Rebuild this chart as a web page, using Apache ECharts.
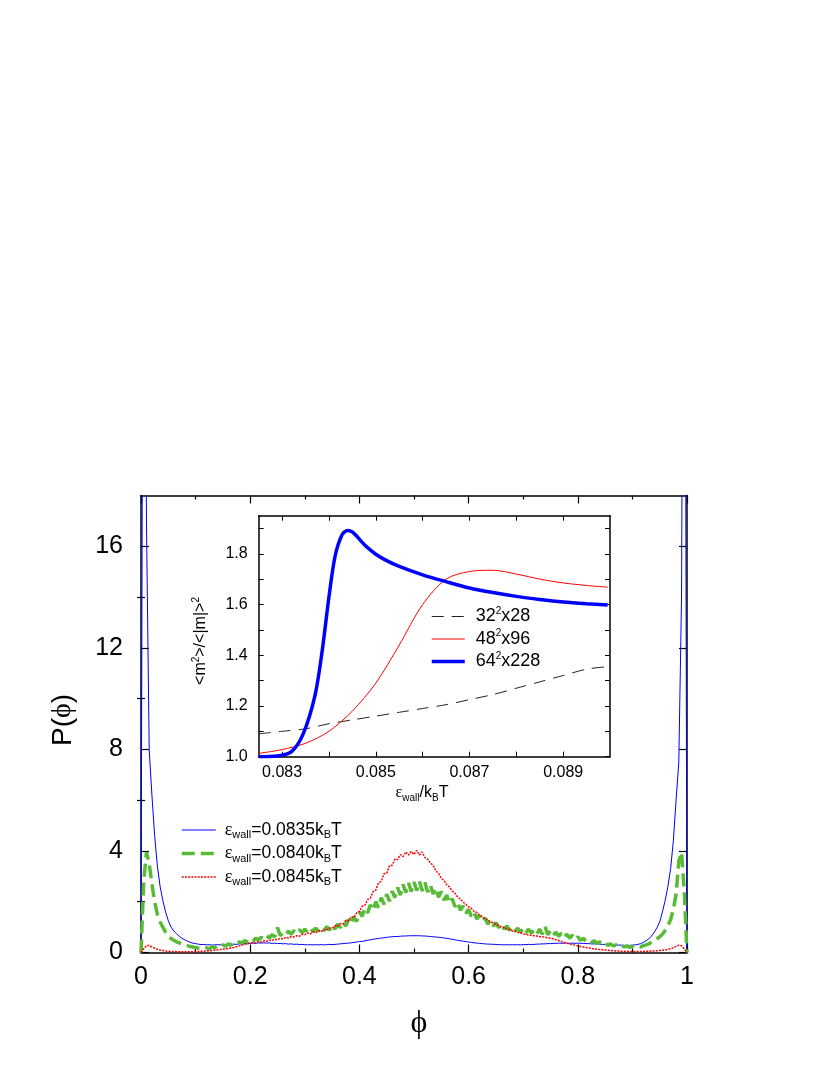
<!DOCTYPE html>
<html><head><meta charset="utf-8">
<script src="https://cdn.jsdelivr.net/npm/echarts@6/dist/echarts.min.js"></script>
<style>html,body{margin:0;padding:0;background:#fff}#c{width:830px;height:1075px}</style>
</head><body><div id="c"></div>
<script>
// ---- main plot: histogram bins of phi (0 .. 1, step 0.005) ----
const PHI_MIN = 0, PHI_BIN = 0.005;
const P0835 = [
 0,40,17,8,6.2,4.6,3.4,2.6,2.05,1.6,1.25,1.0,0.85,0.74,0.64,0.56,0.5,0.45,0.4,0.37,
 0.35,0.33,0.31,0.32,0.30,0.31,0.29,0.30,0.31,0.30,0.31,0.30,0.32,0.31,0.33,0.32,0.34,0.33,0.35,0.34,
 0.36,0.37,0.36,0.38,0.37,0.38,0.37,0.38,0.36,0.37,0.35,0.36,0.34,0.35,0.33,0.34,0.32,0.33,0.31,0.32,
 0.31,0.30,0.31,0.30,0.31,0.30,0.31,0.30,0.31,0.32,0.31,0.32,0.33,0.34,0.35,0.36,0.37,0.38,0.40,0.41,
 0.43,0.44,0.46,0.48,0.50,0.52,0.54,0.55,0.57,0.58,0.60,0.61,0.62,0.63,0.63,0.64,0.65,0.65,0.66,0.66,
 0.66,0.66,0.66,0.65,0.65,0.64,0.63,0.62,0.61,0.60,0.59,0.57,0.56,0.54,0.52,0.50,0.48,0.46,0.45,0.43,
 0.41,0.40,0.38,0.37,0.36,0.35,0.34,0.33,0.33,0.32,0.32,0.31,0.31,0.30,0.31,0.30,0.31,0.30,0.31,0.30,
 0.31,0.31,0.32,0.31,0.32,0.33,0.33,0.34,0.34,0.35,0.35,0.36,0.36,0.37,0.36,0.37,0.37,0.36,0.37,0.36,
 0.37,0.36,0.36,0.35,0.35,0.34,0.34,0.33,0.33,0.32,0.32,0.31,0.31,0.30,0.30,0.29,0.29,0.28,0.28,0.28,
 0.29,0.30,0.32,0.35,0.40,0.46,0.54,0.64,0.80,0.98,1.2,1.6,2.05,2.6,3.3,4.4,6.0,7.5,14,40,
 0];
const P0840 = [
 0,2.8,3.95,3.5,2.7,2.0,1.5,1.2,1.0,0.8,0.65,0.55,0.48,0.42,0.38,0.33,0.30,0.27,0.24,0.22,
 0.20,0.17,0.16,0.14,0.18,0.15,0.22,0.18,0.26,0.21,0.30,0.25,0.34,0.29,0.38,0.33,0.42,0.37,0.47,0.41,
 0.52,0.45,0.56,0.49,0.60,0.53,0.66,0.57,0.70,0.62,0.98,0.66,0.78,0.70,0.84,0.72,0.86,0.76,0.90,0.78,
 0.92,0.80,0.94,0.82,0.96,0.84,0.98,0.86,1.02,0.88,1.06,0.92,1.12,0.98,1.20,1.04,1.30,1.12,1.40,1.22,
 1.60,1.42,1.74,1.56,1.88,1.66,2.00,1.76,2.16,1.90,2.30,2.02,2.42,2.16,2.56,2.26,2.68,2.36,2.74,2.40,
 2.78,2.44,2.80,2.42,2.76,2.38,2.66,2.30,2.54,2.18,2.40,2.06,2.26,1.94,2.12,1.80,1.98,1.66,1.84,1.54,
 1.70,1.42,1.58,1.32,1.46,1.22,1.36,1.12,1.26,1.04,1.18,0.98,1.10,0.92,1.04,0.88,1.00,0.84,0.96,0.80,
 0.94,0.78,0.92,0.76,0.90,0.74,0.92,0.72,1.02,0.70,0.86,0.68,0.80,0.64,0.76,0.60,0.72,0.56,0.68,0.52,
 0.62,0.48,0.56,0.44,0.50,0.40,0.46,0.36,0.42,0.32,0.38,0.28,0.34,0.26,0.30,0.24,0.28,0.22,0.26,0.20,
 0.24,0.20,0.24,0.22,0.27,0.30,0.34,0.40,0.46,0.54,0.62,0.72,0.87,1.05,1.30,1.70,2.30,3.60,3.95,2.40,
 0];
const P0845 = [
 0,0.15,0.27,0.28,0.22,0.17,0.13,0.10,0.08,0.06,0.05,0.04,0.04,0.03,0.03,0.03,0.03,0.03,0.03,0.03,
 0.04,0.04,0.05,0.05,0.06,0.07,0.08,0.09,0.10,0.12,0.13,0.15,0.16,0.18,0.20,0.23,0.26,0.29,0.32,0.35,
 0.37,0.40,0.38,0.43,0.41,0.46,0.44,0.49,0.47,0.52,0.50,0.56,0.53,0.60,0.57,0.63,0.61,0.66,0.64,0.72,
 0.70,0.77,0.73,0.82,0.78,0.86,0.83,0.91,0.88,0.97,0.95,1.05,1.02,1.14,1.12,1.26,1.24,1.40,1.38,1.56,
 1.62,1.82,1.86,2.08,2.14,2.40,2.46,2.74,2.80,3.10,3.12,3.42,3.44,3.68,3.66,3.86,3.78,3.96,3.84,3.98,
 3.86,4.02,3.84,3.96,3.74,3.68,3.52,3.44,3.22,3.12,2.92,2.84,2.66,2.58,2.42,2.34,2.18,2.10,1.98,1.90,
 1.80,1.74,1.62,1.58,1.46,1.42,1.32,1.30,1.20,1.18,1.10,1.08,1.00,0.99,0.92,0.91,0.85,0.84,0.79,0.78,
 0.73,0.72,0.69,0.68,0.66,0.65,0.63,0.62,0.60,0.58,0.56,0.54,0.50,0.47,0.43,0.40,0.36,0.34,0.31,0.29,
 0.26,0.24,0.22,0.20,0.18,0.16,0.14,0.13,0.12,0.11,0.10,0.09,0.08,0.07,0.06,0.06,0.05,0.05,0.04,0.04,
 0.04,0.04,0.04,0.04,0.04,0.05,0.05,0.06,0.06,0.07,0.08,0.09,0.10,0.12,0.15,0.19,0.24,0.29,0.27,0.14,
 0];

// ---- inset ----
const eps32 = [0.0825,0.083,0.0835,0.084,0.0845,0.085,0.0855,0.086,0.0865,0.087,0.0875,0.088,0.0885,0.089,0.0895,0.08995];
const ratio32 = [1.09,1.10,1.11,1.13,1.145,1.16,1.175,1.19,1.205,1.225,1.245,1.27,1.295,1.32,1.345,1.355];
const eps48 = [0.0825,0.083,0.0835,0.084,0.0845,0.085,0.0855,0.086,0.0865,0.087,0.0875,0.088,0.0885,0.089,0.0895,0.08995];
const ratio48 = [1.013,1.028,1.053,1.10,1.18,1.29,1.44,1.60,1.70,1.73,1.735,1.72,1.70,1.685,1.675,1.668];
const eps64 = [0.0825,0.0829,0.0832,0.08345,0.0837,0.08385,0.084,0.08413,0.08428,0.0844,0.0845,0.0846,0.0847,0.0848,0.085,0.0852,0.0855,0.086,0.0865,0.087,0.0875,0.088,0.0885,0.089,0.0895,0.08995];
const ratio64 = [1.000,1.003,1.02,1.09,1.24,1.41,1.63,1.79,1.875,1.892,1.886,1.868,1.847,1.828,1.798,1.776,1.75,1.717,1.69,1.665,1.647,1.632,1.62,1.61,1.603,1.598];

// ---- ticks ----
const mainYLabels = [0,4,8,12,16];
const mainYMinor = [2,6,10,14];
const insetXTicks = [0.083,0.084,0.085,0.086,0.087,0.088,0.089];
const insetXLabels = [0.083,0.085,0.087,0.089];
const insetYTicks = [1.0,1.1,1.2,1.3,1.4,1.5,1.6,1.7,1.8,1.9];
const insetYLabels = [1.0,1.2,1.4,1.6,1.8];

const mainNames = ['w0835','w0840','w0845'];
const mainLabels = {w0835:'0.0835', w0840:'0.0840', w0845:'0.0845'};
const insetNames = ['s32','s48','s64'];
const insetLabels = {s32:['32','x28'], s48:['48','x96'], s64:['64','x228']};

const FONT = '"Liberation Sans", Arial, Helvetica, sans-serif';
const SERIF = '"Liberation Serif", "DejaVu Serif", serif';
const phi = P0835.map((_, i) => +(PHI_MIN + i * PHI_BIN).toFixed(4));
const zip = (xs, ys) => xs.map((x, i) => [x, ys[i]]);

const black = '#000';
function xAx(grid, pos, extra) {
  return Object.assign({
    type:'value', gridIndex:grid, position:pos,
    axisLine:{show:true, onZero:false, lineStyle:{color:black, width:1.5}},
    splitLine:{show:false},
  }, extra);
}

const option = {
  animation:false,
  backgroundColor:'#fff',
  textStyle:{fontFamily:FONT},
  grid:[
    {left:141, top:495.5, width:546, height:457},
    {left:258.7, top:515.7, width:351.3, height:241}
  ],
  xAxis:[
    xAx(0,'bottom',{min:0,max:1,interval:0.2,
      axisTick:{inside:true,length:8,lineStyle:{color:black,width:1.2}},
      minorTick:{show:true,splitNumber:2,length:4,lineStyle:{color:black,width:1.2}},
      axisLabel:{fontSize:25,color:black,margin:12,fontFamily:FONT}}),
    xAx(0,'top',{min:0,max:1,interval:0.2,
      axisTick:{inside:true,length:8,lineStyle:{color:black,width:1.2}},
      minorTick:{show:true,splitNumber:2,length:4,lineStyle:{color:black,width:1.2}},
      axisLabel:{show:false}}),
    xAx(1,'bottom',{min:0.0825,max:0.090,
      axisTick:{inside:true,length:5,customValues:insetXTicks,lineStyle:{color:black,width:1}},
      axisLabel:{fontSize:16,color:black,margin:8,fontFamily:FONT,customValues:insetXLabels,
        formatter:v=>v.toFixed(3)}}),
    xAx(1,'top',{min:0.0825,max:0.090,
      axisTick:{inside:true,length:5,customValues:insetXTicks,lineStyle:{color:black,width:1}},
      axisLabel:{show:false}})
  ],
  yAxis:[
    xAx(0,'left',{min:0,max:18,
      axisTick:{inside:true,length:8,customValues:mainYLabels,lineStyle:{color:black,width:1.2}},
      axisLabel:{fontSize:25,color:black,margin:18,fontFamily:FONT,customValues:mainYLabels}}),
    xAx(0,'left',{min:0,max:18,axisLine:{show:false},
      axisTick:{inside:true,length:4,customValues:mainYMinor,lineStyle:{color:black,width:1.2}},
      axisLabel:{show:false}}),
    xAx(0,'right',{min:0,max:18,
      axisTick:{inside:true,length:8,customValues:mainYLabels,lineStyle:{color:black,width:1.2}},
      axisLabel:{show:false}}),
    xAx(0,'right',{min:0,max:18,axisLine:{show:false},
      axisTick:{inside:true,length:4,customValues:mainYMinor,lineStyle:{color:black,width:1.2}},
      axisLabel:{show:false}}),
    xAx(1,'left',{min:1.0,max:1.95,
      axisTick:{inside:true,length:5,customValues:insetYTicks,lineStyle:{color:black,width:1}},
      axisLabel:{fontSize:16,color:black,margin:11,fontFamily:FONT,customValues:insetYLabels,
        formatter:v=>v.toFixed(1)}}),
    xAx(1,'right',{min:1.0,max:1.95,
      axisTick:{inside:true,length:5,customValues:insetYTicks,lineStyle:{color:black,width:1}},
      axisLabel:{show:false}})
  ],
  legend:[
    {data:mainNames, orient:'vertical', left:180, top:821, padding:0,
     itemWidth:34, itemHeight:14, itemGap:4,
     lineStyle:{width:'inherit'}, itemStyle:{opacity:0},
     formatter:n=>'{e|ε}{s|wall}{n|='+mainLabels[n]+'k}{s|B}{n|T}',
     textStyle:{color:black,fontFamily:FONT,rich:{
       e:{fontSize:18,lineHeight:21,padding:[0,0,0,4],fontFamily:SERIF,color:black},
       n:{fontSize:17.5,lineHeight:21,fontFamily:FONT,color:black},
       s:{fontSize:11,lineHeight:11,verticalAlign:'bottom',fontFamily:FONT,color:black}}}},
    {data:insetNames, orient:'vertical', left:430, top:606, padding:0,
     itemWidth:33, itemHeight:14, itemGap:3,
     lineStyle:{width:'inherit'}, itemStyle:{opacity:0},
     formatter:n=>'{a|'+insetLabels[n][0]+'}{p|2}{n|'+insetLabels[n][1]+'}',
     textStyle:{color:black,fontFamily:FONT,rich:{
       a:{fontSize:18,lineHeight:21,padding:[0,0,0,6],fontFamily:FONT,color:black},
       n:{fontSize:18,lineHeight:21,fontFamily:FONT,color:black},
       p:{fontSize:10,lineHeight:10,verticalAlign:'top',fontFamily:FONT,color:black}}}}
  ],
  series:[
    {name:'w0835',type:'line',xAxisIndex:0,yAxisIndex:0,data:zip(phi,P0835),symbol:'none',
     color:'#0000ff',lineStyle:{color:'#0000ff',width:1}},
    {name:'w0840',type:'line',xAxisIndex:0,yAxisIndex:0,data:zip(phi,P0840),symbol:'none',
     color:'#58bb35',lineStyle:{color:'#58bb35',width:3.5,type:[13,6]}},
    {name:'w0845',type:'line',xAxisIndex:0,yAxisIndex:0,data:zip(phi,P0845),symbol:'none',
     color:'#ff0000',lineStyle:{color:'#ff0000',width:1.5,type:[2,1.2]}},
    {name:'s32',type:'line',xAxisIndex:2,yAxisIndex:4,data:zip(eps32,ratio32),symbol:'none',smooth:0.3,
     color:'#222',lineStyle:{color:'#222',width:1,type:[12,8]}},
    {name:'s48',type:'line',xAxisIndex:2,yAxisIndex:4,data:zip(eps48,ratio48),symbol:'none',smooth:0.3,
     color:'#ff0000',lineStyle:{color:'#ff0000',width:1}},
    {name:'s64',type:'line',xAxisIndex:2,yAxisIndex:4,data:zip(eps64,ratio64),symbol:'none',smooth:0.3,
     color:'#0000ff',lineStyle:{color:'#0000ff',width:3.5}}
  ],
  graphic:[
    {type:'text',x:419,y:1024,style:{text:'ϕ',fontSize:32,fontFamily:SERIF,fill:black,align:'center',verticalAlign:'middle'}},
    {type:'text',x:63,y:720,rotation:Math.PI/2,style:{text:'{n|P(}{f|ϕ}{n|)}',align:'center',verticalAlign:'middle',fill:black,
      rich:{n:{fontSize:28,lineHeight:34,fontFamily:FONT,fill:black},f:{fontSize:28,lineHeight:34,fontFamily:SERIF,fill:black}}}},
    {type:'text',x:422,y:793,style:{text:'{e|ε}{s|wall}{n|/k}{s|B}{n|T}',align:'center',verticalAlign:'middle',fill:black,
      rich:{e:{fontSize:16,lineHeight:20,fontFamily:SERIF,fill:black},n:{fontSize:16,lineHeight:20,fontFamily:FONT,fill:black},s:{fontSize:10,lineHeight:10,verticalAlign:'bottom',fontFamily:FONT,fill:black}}}},
    {type:'text',x:201,y:641,rotation:Math.PI/2,style:{text:'{n|<m}{p|2}{n|>/<|m|>}{p|2}',align:'center',verticalAlign:'middle',fill:black,
      rich:{n:{fontSize:16,lineHeight:20,fontFamily:FONT,fill:black},p:{fontSize:10,lineHeight:10,verticalAlign:'top',fontFamily:FONT,fill:black}}}}
  ]
};
echarts.init(document.getElementById('c'),null,{renderer:'canvas'}).setOption(option);
</script></body></html>
